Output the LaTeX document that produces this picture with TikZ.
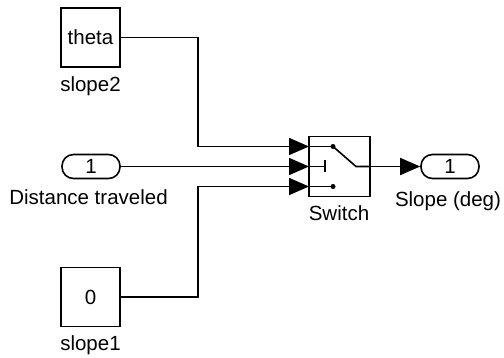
\documentclass[tikz,border=0pt]{standalone}
\usepackage{fontspec}
\setmainfont{Liberation Sans}
\usetikzlibrary{arrows.meta}
\begin{document}
\begin{tikzpicture}[x=1pt,y=-1pt,
  txt/.style={font=\fontsize{20.5}{24}\selectfont},
  blk/.style={draw,line width=1.6pt,minimum width=59pt,minimum height=59pt,inner sep=0pt,txt},
  port/.style={draw,line width=1.6pt,rounded corners=11.5pt,minimum width=58pt,minimum height=24pt,inner sep=0pt,txt},
  lbl/.style={anchor=north,inner sep=0pt,txt},
  wire/.style={line width=1.6pt},
  sig/.style={wire,-{Triangle[length=20pt,width=17pt]}},
  dotc/.style={fill,circle,inner sep=0pt,minimum size=5pt}]
\useasboundingbox (0,0) rectangle (504,358);
% blocks
\node[blk] (slope2) at (90.5,37.5) {theta};
\node[blk] (slope1) at (90.5,297) {0};
\node[port] (dist) at (91,166.5) {1};
\node[draw,line width=1.6pt,minimum width=61pt,minimum height=60pt,inner sep=0pt] (sw) at (339.5,166.5) {};
\node[port] (out) at (450,166.5) {1};
% labels
\node[lbl] (l2) at (90.5,76) {slope2};
\node[lbl] (l1) at (90.5,335) {slope1};
\node[lbl] (ld) at (88.5,189) {Distance traveled};
\node[lbl] (ls) at (339,205) {Switch};
\node[lbl] (lo) at (448,191) {Slope (deg)};
% switch ports
\coordinate (in1) at (309,146.5);
\coordinate (in2) at (309,166.5);
\coordinate (in3) at (309,186.5);
\coordinate (bx) at (198,0);
% switch icon
\node[dotc] (d1) at (333,146.5) {};
\node[dotc] (d3) at (333,186.5) {};
\coordinate (tk) at (325,166.5);
\coordinate (pv) at (356,166.5);
\draw[wire] (in1) -- (d1.center);
\draw[wire] (in3) -- (d3.center);
\draw[wire] (in2) -- (tk);
\draw[wire] ([yshift=-6pt]tk) -- ([yshift=6pt]tk);
\draw[wire] (d1.center) -- (pv) -- (sw.east);
% connectors
\draw[sig] (slope2.east) -| (bx |- in1) -- (in1);
\draw[sig] (dist.east) -- (in2);
\draw[sig] (slope1.east) -| (bx |- in3) -- (in3);
\draw[sig] (sw.east) -- (out.west);
\end{tikzpicture}
\end{document}
